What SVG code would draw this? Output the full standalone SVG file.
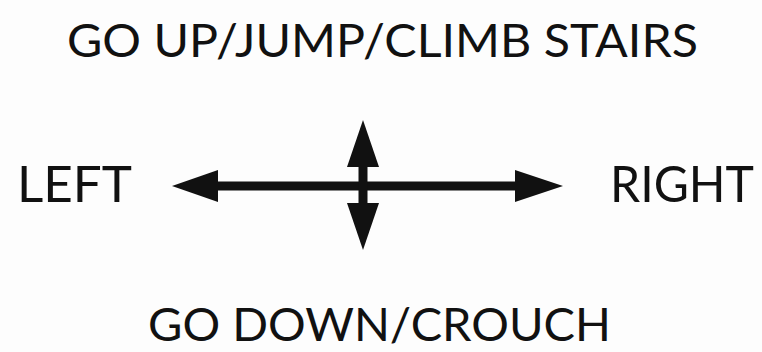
<svg xmlns="http://www.w3.org/2000/svg" width="762" height="352" viewBox="0 0 762 352">
<style>
.lbl{font-family:Lato,"Open Sans","Liberation Sans",sans-serif;font-size:46px;fill:#111;}
.big{font-size:50px;}
.shaft{stroke:#111;stroke-width:9;fill:none;}
.head{fill:#111;}
</style>
<rect width="762" height="352" fill="#fdfdfd"/>
<g id="up"><text class="lbl" x="67" y="57" textLength="631" lengthAdjust="spacingAndGlyphs">GO UP/JUMP/CLIMB STAIRS</text></g>
<g id="left"><text class="lbl big" x="17" y="202" textLength="115" lengthAdjust="spacingAndGlyphs">LEFT</text></g>
<g id="right"><text class="lbl big" x="610" y="202" textLength="144" lengthAdjust="spacingAndGlyphs">RIGHT</text></g>
<g id="down"><text class="lbl" x="148" y="341" textLength="463" lengthAdjust="spacingAndGlyphs">GO DOWN/CROUCH</text></g>
<g id="connectors">
<line class="shaft" x1="212" y1="186" x2="522" y2="186"/>
<polygon class="head" points="172,186 218,170 218,202"/>
<polygon class="head" points="563,186 515,170 515,202"/>
<line class="shaft" x1="363" y1="160" x2="363" y2="210"/>
<polygon class="head" points="363,120 347,167 379,167"/>
<polygon class="head" points="363,250 347,203 379,203"/>
</g>
</svg>
